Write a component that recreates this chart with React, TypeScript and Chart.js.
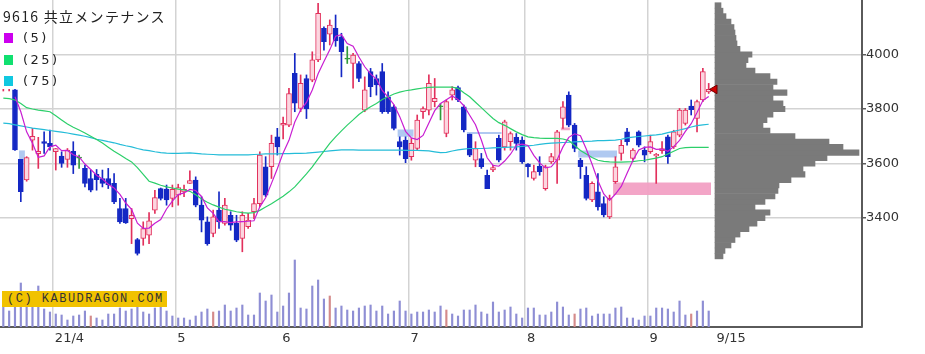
import React, { useEffect, useRef } from "react";
import { Chart, registerables } from "chart.js";
Chart.register(...registerables);

// ---- data ----
const monthStartIdx = [9, 30, 48, 70, 90, 111];
const xTickLabels = ["21/4", "5", "6", "7", "8", "9", "9/15"];
const yTicks = [3400, 3600, 3800, 4000];

const opens = [
  3880, 3885, 3870, 3615, 3540, 3686, 3636, 3680, 3674, 3643,
  3627, 3615, 3645, 3620, 3582, 3545, 3560, 3545, 3545, 3527,
  3435, 3435, 3398, 3321, 3325, 3337, 3429, 3508, 3506, 3472,
  3484, 3496, 3527, 3539, 3447, 3386, 3343, 3429, 3380, 3410,
  3380, 3325, 3368, 3423, 3453, 3588, 3588, 3698, 3741, 3741,
  3931, 3802, 3912, 3906, 3980, 4096, 4075, 4096, 4065, 3983,
  3967, 3967, 3796, 3937, 3912, 3937, 3845, 3808, 3680, 3686,
  3625, 3655, 3790, 3796, 3827, 3808, 3710, 3851, 3879, 3808,
  3708, 3612, 3618, 3557, 3576, 3692, 3661, 3680, 3696, 3686,
  3598, 3545, 3590, 3508, 3606, 3612, 3765, 3851, 3741, 3612,
  3557, 3466, 3496, 3453, 3404, 3533, 3637, 3716, 3619, 3716,
  3649, 3643, 3628, 3647, 3698, 3661, 3704, 3747, 3811, 3765,
  3833, 3863,
];
const highs = [
  3930, 3920, 3872, 3615, 3625, 3729, 3696, 3716, 3723, 3655,
  3643, 3655, 3680, 3631, 3594, 3576, 3578, 3576, 3582, 3563,
  3472, 3472, 3435, 3325, 3386, 3420, 3502, 3510, 3521, 3521,
  3524, 3521, 3573, 3551, 3478, 3404, 3429, 3496, 3472, 3423,
  3410, 3423, 3417, 3472, 3643, 3625, 3704, 3729, 3770, 3876,
  4004, 3925, 3925, 4010, 4188, 4102, 4127, 4145, 4078, 4029,
  4004, 3974, 3918, 3949, 3925, 3967, 3863, 3814, 3698, 3698,
  3692, 3778, 3808, 3925, 3912, 3820, 3833, 3882, 3884, 3814,
  3708, 3680, 3637, 3576, 3594, 3704, 3759, 3716, 3710, 3698,
  3600, 3594, 3625, 3594, 3637, 3722, 3827, 3863, 3747, 3619,
  3588, 3533, 3563, 3478, 3484, 3625, 3686, 3729, 3655, 3720,
  3661, 3704, 3637, 3680, 3704, 3722, 3802, 3802, 3833, 3833,
  3949, 3894,
];
const lows = [
  3866, 3866, 3648, 3460, 3535, 3649, 3582, 3637, 3649, 3576,
  3586, 3586, 3563, 3582, 3514, 3496, 3502, 3514, 3508, 3453,
  3380, 3380, 3306, 3264, 3300, 3306, 3417, 3466, 3447, 3441,
  3447, 3478, 3527, 3441, 3349, 3300, 3331, 3362, 3374, 3355,
  3313, 3276, 3362, 3398, 3441, 3478, 3545, 3631, 3690, 3735,
  3790, 3790, 3765, 3900, 3974, 4016, 4035, 4030, 3918, 3967,
  3876, 3900, 3790, 3845, 3851, 3784, 3784, 3723, 3631, 3603,
  3612, 3649, 3765, 3778, 3808, 3760, 3698, 3833, 3827, 3716,
  3625, 3588, 3582, 3508, 3570, 3606, 3649, 3649, 3649, 3600,
  3551, 3539, 3557, 3502, 3600, 3527, 3729, 3735, 3643, 3545,
  3466, 3460, 3429, 3404, 3398, 3527, 3612, 3667, 3612, 3661,
  3606, 3637, 3527, 3637, 3600, 3655, 3698, 3741, 3778, 3716,
  3827, 3857,
];
const closes = [
  3910, 3900, 3650, 3497, 3622, 3700, 3645, 3674, 3662, 3655,
  3600, 3649, 3594, 3620, 3527, 3502, 3541, 3527, 3521, 3459,
  3386, 3382, 3410, 3270, 3361, 3390, 3475, 3472, 3466, 3505,
  3512, 3505, 3537, 3447, 3392, 3306, 3404, 3386, 3447, 3374,
  3319, 3410, 3392, 3453, 3631, 3484, 3674, 3661, 3747, 3857,
  3821, 3894, 3800, 3980, 4151, 4047, 4108, 4050, 4010, 3983,
  3998, 3912, 3870, 3882, 3888, 3790, 3790, 3729, 3661, 3618,
  3674, 3759, 3802, 3894, 3839, 3808, 3827, 3870, 3833, 3723,
  3631, 3655, 3588, 3508, 3585, 3612, 3753, 3710, 3674, 3606,
  3588, 3570, 3570, 3588, 3625, 3716, 3808, 3741, 3655, 3588,
  3472, 3527, 3441, 3411, 3472, 3588, 3667, 3680, 3649, 3667,
  3631, 3680, 3634, 3655, 3625, 3716, 3796, 3796, 3798, 3827,
  3937, 3872,
];
// volume, thousand shares
const volumes = [
  72, 48, 75, 132, 84, 75, 123, 54, 45, 39,
  36, 21, 33, 36, 48, 33, 27, 21, 39, 39,
  57, 48, 54, 63, 45, 39, 57, 66, 48, 33,
  27, 27, 21, 33, 45, 54, 45, 48, 66, 48,
  57, 66, 36, 36, 102, 78, 96, 45, 63, 102,
  201, 57, 54, 123, 141, 84, 93, 57, 63, 51,
  48, 57, 63, 66, 48, 63, 39, 48, 78, 48,
  39, 45, 45, 51, 45, 63, 51, 39, 33, 51,
  51, 66, 45, 39, 75, 45, 51, 60, 39, 27,
  57, 57, 36, 36, 45, 75, 60, 36, 39, 54,
  57, 33, 39, 39, 39, 57, 60, 27, 27, 21,
  33, 33, 57, 57, 54, 45, 78, 36, 39, 48,
  78, 48,
];
const volRedIdx = [15, 36, 56, 76, 98, 118];

const ma5 = [
  null, null, 3845, 3790, 3716, 3674, 3623, 3628, 3661, 3667,
  3647, 3648, 3632, 3624, 3598, 3578, 3557, 3543, 3524, 3510,
  3487, 3455, 3432, 3381, 3362, 3363, 3381, 3394, 3433, 3462,
  3486, 3492, 3505, 3501, 3479, 3437, 3417, 3387, 3387, 3383,
  3386, 3387, 3388, 3390, 3441, 3474, 3527, 3581, 3639, 3685,
  3752, 3796, 3824, 3870, 3929, 3974, 4017, 4067, 4073, 4040,
  4030, 3991, 3955, 3929, 3910, 3868, 3844, 3816, 3772, 3718,
  3694, 3688, 3703, 3749, 3794, 3820, 3834, 3848, 3835, 3812,
  3777, 3742, 3686, 3621, 3593, 3590, 3609, 3634, 3667, 3671,
  3666, 3630, 3602, 3584, 3588, 3614, 3661, 3696, 3709, 3702,
  3653, 3597, 3537, 3488, 3465, 3488, 3516, 3564, 3611, 3650,
  3659, 3661, 3652, 3653, 3645, 3662, 3685, 3718, 3746, 3787,
  3831, 3846,
];
const ma25 = [
  3840, 3838, 3833, 3820, 3805, 3800, 3796, 3793, 3790, 3775,
  3760, 3745, 3733, 3723, 3712, 3700, 3688, 3675, 3660, 3645,
  3632, 3618, 3606, 3585, 3560, 3535, 3528, 3520, 3514, 3510,
  3506, 3503, 3498, 3485, 3470, 3458, 3448, 3440, 3432, 3428,
  3423, 3420, 3418, 3420, 3428, 3440, 3452, 3466, 3480, 3496,
  3514, 3538, 3562, 3588, 3617, 3645, 3674, 3698, 3720, 3741,
  3760, 3780, 3795, 3808, 3820, 3835, 3845, 3855, 3862, 3867,
  3870, 3874, 3877, 3879, 3880, 3880, 3880, 3880, 3876, 3860,
  3845, 3825, 3805, 3785, 3765, 3750, 3740, 3728, 3716, 3706,
  3698, 3695, 3693, 3692, 3692, 3692, 3690, 3684, 3666, 3648,
  3635, 3622, 3612, 3608, 3606, 3605, 3605, 3606, 3607, 3610,
  3612, 3616, 3620, 3625, 3635, 3645, 3655, 3658, 3659, 3659,
  3659, 3659,
];
const ma75 = [
  3748, 3746, 3742, 3738, 3734, 3730, 3727, 3724, 3721, 3718,
  3715, 3712, 3708, 3704, 3700, 3695, 3689, 3685, 3680, 3676,
  3670, 3665, 3661, 3655, 3650, 3647, 3643, 3640, 3638, 3637,
  3637, 3638, 3639, 3637, 3635, 3634, 3633, 3632, 3632, 3632,
  3632, 3632, 3632, 3633, 3634, 3635, 3635, 3635, 3636, 3636,
  3637, 3637, 3638, 3640, 3642, 3644, 3646, 3648, 3650, 3650,
  3650, 3649, 3649, 3649, 3649, 3649, 3649, 3649, 3649, 3648,
  3648, 3648, 3647, 3646, 3643, 3640, 3641, 3646, 3650, 3653,
  3655, 3655, 3655, 3656, 3657, 3658, 3659, 3660, 3661, 3663,
  3665, 3667, 3670, 3673, 3675, 3676, 3677, 3678, 3679, 3680,
  3681, 3682, 3684, 3684, 3685, 3686, 3689, 3694, 3697, 3699,
  3701, 3703, 3705, 3708, 3713, 3718, 3723, 3728, 3734, 3739,
  3742, 3744,
];

// volume-at-price profile (price bin centre, relative volume)
const profilePrices = [
  3260, 3280, 3300, 3320, 3340, 3360, 3380, 3400, 3420, 3440,
  3460, 3480, 3500, 3520, 3540, 3560, 3580, 3600, 3620, 3640,
  3660, 3680, 3700, 3720, 3740, 3760, 3780, 3800, 3820, 3840,
  3860, 3880, 3900, 3920, 3940, 3960, 3980, 4000, 4020, 4040,
  4060, 4080, 4100, 4120, 4140, 4160, 4180,
];
const profileVol = [
  8, 10, 16, 20, 25, 34, 42, 50, 55, 40,
  50, 60, 63, 64, 76, 90, 88, 100, 112, 144,
  128, 114, 80, 55, 48, 52, 58, 70, 68, 58,
  72, 58, 62, 55, 40, 31, 33, 37, 25, 22,
  21, 20, 19, 16, 11, 8, 6,
];

// price gaps (windows)
const gapStart = [2.7, 67.6, 79.5, 95.6, 98.6, 104.6];
const gapEnd = [3.7, 70.4, 85.5, 97.2, 105.3, 121.4];
const gapLow = [3615, 3698, 3708, 3722, 3622, 3484];
const gapHigh = [3648, 3725, 3716, 3732, 3648, 3530];
const gapUp = [false, false, false, true, false, true];

const zeroPad = (s: any) => {
  s.paddingLeft = 0;
  s.paddingRight = 0;
  s.paddingTop = 0;
  s.paddingBottom = 0;
};

export default function App() {
  const ref = useRef<HTMLCanvasElement>(null);

  useEffect(() => {
    document.body.style.margin = "0";
    const n = closes.length;
    const idx = closes.map((_, i) => i);
    const RED = "#e2305c";
    const RED_FILL = "#fcd6e0";
    const BLUE = "#1428c4";
    const GREEN = "#2f9a3a";
    const isFlat = (i: number) => closes[i] === opens[i];
    const isUp = (i: number) => closes[i] > opens[i];
    const bodyFill = idx.map((i) => (isFlat(i) ? GREEN : isUp(i) ? RED_FILL : BLUE));
    const bodyLine = idx.map((i) => (isFlat(i) ? GREEN : isUp(i) ? RED : BLUE));
    const GRID = "#d3d3d3";

    const gapSets: any[] = gapStart.map((s, k) => ({
      type: "line",
      data: [
        { x: s, y: gapHigh[k] },
        { x: gapEnd[k], y: gapHigh[k] },
      ],
      fill: { value: gapLow[k] },
      backgroundColor: gapUp[k] ? "rgba(242,160,196,0.95)" : "rgba(172,198,240,0.95)",
      borderWidth: 0,
      pointRadius: 0,
      xAxisID: "x",
      yAxisID: "y",
      order: 6,
    }));

    const chart = new Chart(ref.current as HTMLCanvasElement, {
      type: "bar",
      data: {
        datasets: [
          {
            type: "scatter",
            data: [{ x: n, y: closes[n - 1] }],
            pointStyle: "triangle",
            pointRotation: 270,
            pointRadius: 5,
            pointBackgroundColor: "#d40000",
            pointBorderColor: "#700000",
            pointBorderWidth: 1,
            xAxisID: "x",
            yAxisID: "y",
            order: 0,
          } as any,
          {
            type: "line",
            data: ma5.map((v, i) => ({ x: i, y: v })),
            borderColor: "#c81ed2",
            borderWidth: 1.2,
            pointRadius: 0,
            xAxisID: "x",
            yAxisID: "y",
            order: 1,
          } as any,
          {
            type: "line",
            data: ma25.map((v, i) => ({ x: i, y: v })),
            borderColor: "#2ccf6a",
            borderWidth: 1.2,
            pointRadius: 0,
            xAxisID: "x",
            yAxisID: "y",
            order: 2,
          } as any,
          {
            type: "line",
            data: ma75.map((v, i) => ({ x: i, y: v })),
            borderColor: "#24bcd8",
            borderWidth: 1.2,
            pointRadius: 0,
            xAxisID: "x",
            yAxisID: "y",
            order: 3,
          } as any,
          {
            type: "bar",
            data: idx.map((i) => ({ x: i, y: [opens[i], closes[i]] })),
            backgroundColor: bodyFill,
            borderColor: bodyLine,
            borderWidth: 1,
            borderSkipped: false,
            barThickness: 5,
            minBarLength: 1,
            grouped: false,
            xAxisID: "x",
            yAxisID: "y",
            order: 4,
          } as any,
          {
            type: "bar",
            data: idx.map((i) => ({ x: i, y: [lows[i], highs[i]] })),
            backgroundColor: bodyLine,
            borderWidth: 0,
            barThickness: 1,
            grouped: false,
            xAxisID: "x",
            yAxisID: "y",
            order: 5,
          } as any,
          ...gapSets,
          {
            type: "bar",
            data: idx.map((i) => ({ x: i, y: volumes[i] })),
            backgroundColor: idx.map((i) => (volRedIdx.includes(i) ? "#d48a8a" : "#8e8ed4")),
            borderWidth: 0,
            barThickness: 1.5,
            grouped: false,
            xAxisID: "x",
            yAxisID: "yv",
            order: 7,
          } as any,
          {
            type: "bar",
            indexAxis: "y",
            data: profilePrices.map((p, k) => ({ x: profileVol[k], y: p })),
            backgroundColor: "#7a7a7a",
            borderWidth: 0,
            categoryPercentage: 1,
            barPercentage: 1,
            grouped: false,
            xAxisID: "xp",
            yAxisID: "yp",
            order: 8,
          } as any,
        ],
      },
      options: {
        animation: false,
        responsive: false,
        devicePixelRatio: 1,
        layout: { padding: 0, autoPadding: false },
        plugins: { legend: { display: false }, tooltip: { enabled: false } },
        scales: {
          x: {
            type: "linear",
            position: "bottom",
            min: -0.57,
            max: 147.3,
            offset: false,
            grid: {
              offset: false,
              color: (c: any) => (c.index === xTickLabels.length - 1 ? "rgba(0,0,0,0)" : GRID),
              lineWidth: 1.5,
              drawTicks: false,
            },
            border: { display: true, color: "#5a5a5a", width: 2 },
            ticks: {
              align: "start",
              labelOffset: 2,
              padding: 4,
              autoSkip: false,
              maxRotation: 0,
              color: "#333",
              font: { family: "DejaVu Sans", size: 13 },
              callback: (_v: any, i: number) => xTickLabels[i],
            },
            afterBuildTicks: (s: any) => {
              s.ticks = [...monthStartIdx.map((m) => m - 0.5), n].map((v) => ({ value: v }));
            },
            afterFit: (s: any) => {
              s.height = 27;
              zeroPad(s);
            },
          },
          y: {
            type: "linear",
            position: "right",
            min: 3000,
            max: 4200,
            grid: { color: GRID, lineWidth: 1.5, drawTicks: true, tickLength: 4, tickColor: "#5a5a5a" },
            border: { display: true, color: "#5a5a5a", width: 2 },
            ticks: {
              padding: 0,
              color: "#333",
              font: { family: "DejaVu Sans", size: 13 },
              callback: (v: any) => String(v),
            },
            afterBuildTicks: (s: any) => {
              s.ticks = yTicks.map((v) => ({ value: v }));
            },
            afterFit: (s: any) => {
              s.width = 63;
              zeroPad(s);
            },
          },
          yv: { type: "linear", display: false, min: 0, max: 981, afterFit: zeroPad },
          yp: {
            type: "linear",
            display: false,
            min: 3000,
            max: 4200,
            offset: false,
            grid: { offset: false },
            afterFit: zeroPad,
          },
          xp: { type: "linear", display: false, min: -715, max: 147, offset: false, afterFit: zeroPad },
        },
      } as any,
    });
    return () => chart.destroy();
  }, []);

  const legendRows = [
    { label: "(5)", color: "#cc00ee", top: 33 },
    { label: "(25)", color: "#10e070", top: 55 },
    { label: "(75)", color: "#10c8e0", top: 76 },
  ];

  return (
    <div style={{ position: "relative", width: 925, height: 354, background: "#fff" }}>
      <canvas ref={ref} width={925} height={354} style={{ display: "block" }} />
      <div style={{ position: "absolute", left: 0, top: 0, width: 52, height: 89, background: "#fff" }} />
      <div
        style={{
          position: "absolute",
          left: 3,
          top: 7,
          fontFamily: '"Noto Sans CJK JP", sans-serif',
          fontSize: 14,
          lineHeight: "18px",
          letterSpacing: "1.3px",
          color: "#222",
          whiteSpace: "nowrap",
        }}
      >
        9616 共立メンテナンス
      </div>
      {legendRows.map((r) => (
        <React.Fragment key={r.label}>
          <div style={{ position: "absolute", left: 4, top: r.top, width: 9, height: 10, background: r.color }} />
          <div
            style={{
              position: "absolute",
              left: 23,
              top: r.top - 4,
              fontFamily: '"DejaVu Sans", sans-serif',
              fontSize: 13,
              lineHeight: "18px",
              letterSpacing: "2.5px",
              color: "#222",
              whiteSpace: "nowrap",
            }}
          >
            {r.label}
          </div>
        </React.Fragment>
      ))}
      <div
        style={{
          position: "absolute",
          left: 2,
          top: 291,
          width: 165,
          height: 16,
          background: "#f1c200",
          fontFamily: '"Liberation Mono", monospace',
          fontSize: 12,
          lineHeight: "16px",
          letterSpacing: "1.5px",
          color: "#333",
          paddingLeft: 5,
          boxSizing: "border-box",
          whiteSpace: "nowrap",
        }}
      >
        (C) KABUDRAGON.COM
      </div>
    </div>
  );
}
